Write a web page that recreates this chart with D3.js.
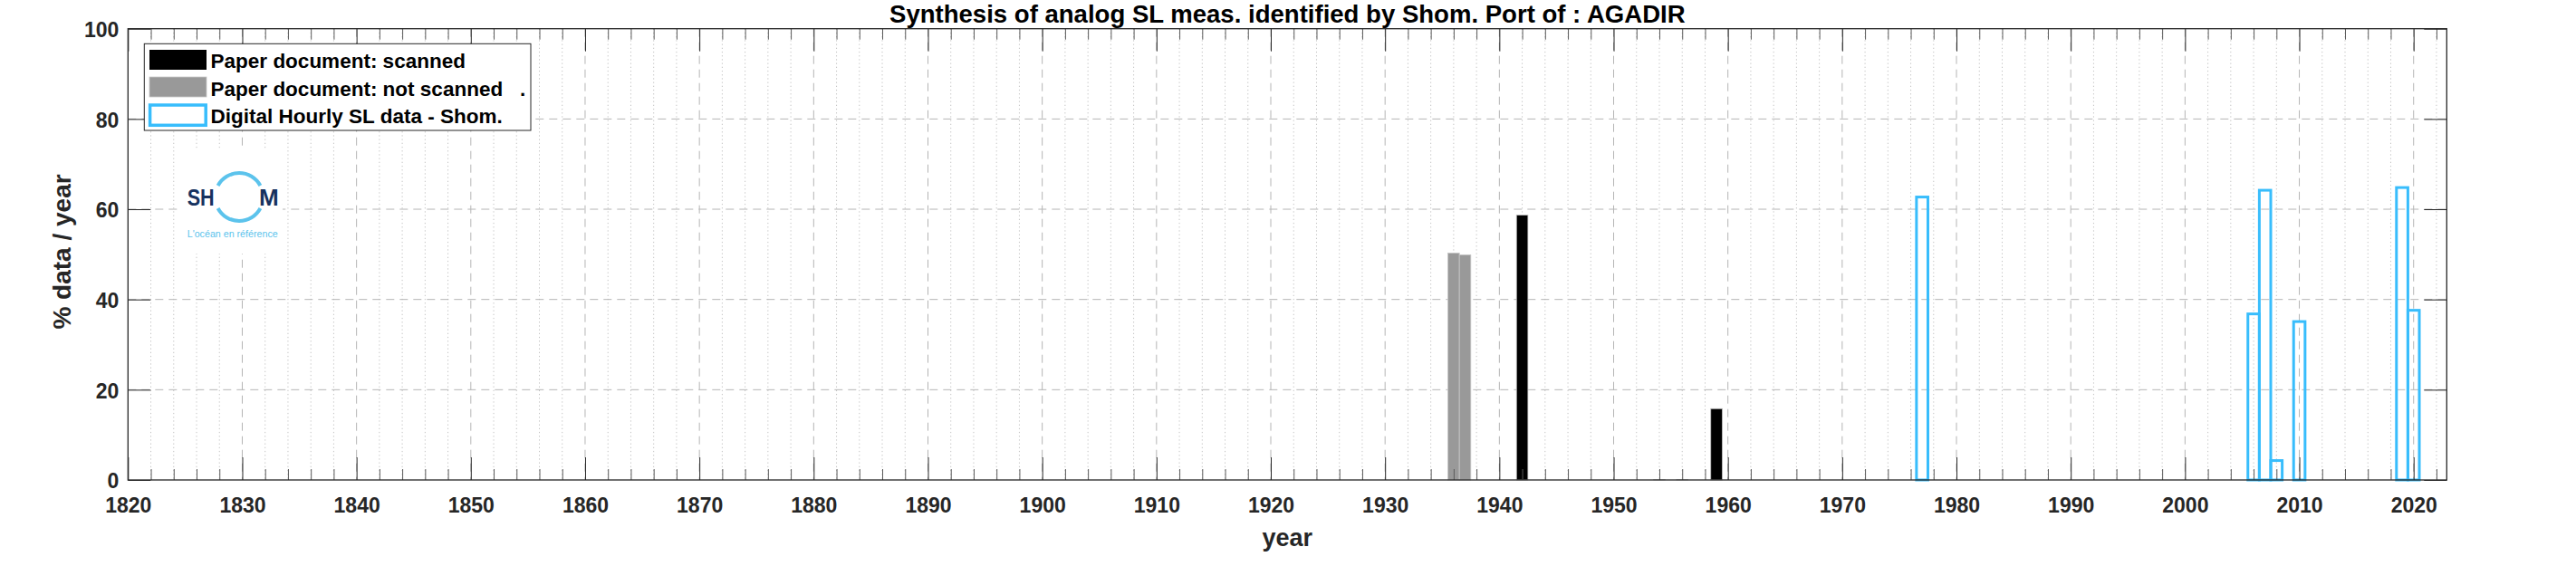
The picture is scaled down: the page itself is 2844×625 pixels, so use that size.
<!DOCTYPE html>
<html><head><meta charset="utf-8">
<script src="https://cdn.jsdelivr.net/npm/d3@7"></script>
<style>
body{margin:0;background:#fff}
text{font-family:"Liberation Sans",Arial,sans-serif;}
</style>
</head><body>
<svg id="chart" width="2844" height="625" xmlns="http://www.w3.org/2000/svg"></svg>
<script>
// ---- data ----
const scannedYears = [1942, 1959];
const scannedValues = [58.7, 15.8];
const notScannedYears = [1936, 1937, 1954, 1956];
const notScannedValues = [50.3, 49.9, 0.1, 0.1];
const digitalYears = [1977, 2006, 2007, 2008, 2010, 2019, 2020];
const digitalValues = [62.7, 36.8, 64.2, 4.3, 35.1, 64.8, 37.6];
const xTickLabels = [1820,1830,1840,1850,1860,1870,1880,1890,1900,1910,1920,1930,1940,1950,1960,1970,1980,1990,2000,2010,2020];
const yTickLabels = [0, 20, 40, 60, 80, 100];
const titleText = "Synthesis of analog SL meas. identified by Shom. Port of : AGADIR";
const xLabelText = "year";
const yLabelText = "% data / year";
const legendLabels = ["Paper document: scanned", "Paper document: not scanned   .", "Digital Hourly SL data - Shom."];

// ---- layout ----
const W = 2844, H = 625;
const L = 141.3, R = 2701.3, T = 31.7, B = 530;
const axisColor = "#262626";
const blue = "#38bdfc";

const svg = d3.select("#chart");
svg.append("rect").attr("width", W).attr("height", H).attr("fill", "#fff");

const x = d3.scaleLinear().domain([1820, 2022.9]).range([L, R]);
const y = d3.scaleLinear().domain([0, 100]).range([B, T]);

const minorYears = d3.range(1820, 2023, 2).filter(v => v % 10 !== 0);

// ---- grid ----
const grid = svg.append("g");
grid.selectAll("line.minor").data(minorYears).join("line")
  .attr("x1", d => x(d)).attr("x2", d => x(d)).attr("y1", T).attr("y2", B)
  .attr("stroke", "#c4c4c4").attr("stroke-width", 1).attr("stroke-dasharray", "1.3,2.9");
grid.selectAll("line.majorx").data(xTickLabels.filter(v => v > 1820)).join("line")
  .attr("x1", d => x(d)).attr("x2", d => x(d)).attr("y1", T).attr("y2", B)
  .attr("stroke", "#b5b5b5").attr("stroke-width", 1).attr("stroke-dasharray", "9,6");
grid.selectAll("line.majory").data(yTickLabels.filter(v => v > 0 && v < 100)).join("line")
  .attr("x1", L).attr("x2", R).attr("y1", d => y(d)).attr("y2", d => y(d))
  .attr("stroke", "#b5b5b5").attr("stroke-width", 1).attr("stroke-dasharray", "9,6");

// ---- bars ----
const bw = x(1821) - x(1820);
const bars = svg.append("g");
bars.selectAll("rect.ns").data(notScannedYears.map((d, i) => [d, notScannedValues[i]])).join("rect")
  .attr("x", d => x(d[0] - 0.5)).attr("width", bw)
  .attr("y", d => y(d[1])).attr("height", d => y(0) - y(d[1]))
  .attr("fill", "#999999").attr("stroke", "#c6c6c6").attr("stroke-width", 0.8);
bars.selectAll("rect.sc").data(scannedYears.map((d, i) => [d, scannedValues[i]])).join("rect")
  .attr("x", d => x(d[0] - 0.5)).attr("width", bw)
  .attr("y", d => y(d[1])).attr("height", d => y(0) - y(d[1]))
  .attr("fill", "#000").attr("stroke", "#bcbcbc").attr("stroke-width", 0.8);
bars.selectAll("rect.dg").data(digitalYears.map((d, i) => [d, digitalValues[i]])).join("rect")
  .attr("x", d => x(d[0] - 0.5)).attr("width", bw)
  .attr("y", d => y(d[1])).attr("height", d => y(0) - y(d[1]))
  .attr("fill", "none").attr("stroke", blue).attr("stroke-width", 3);

// ---- axes ----
function styleAxis(g, color, width) {
  g.select(".domain").remove();
  g.selectAll(".tick line").attr("stroke", color).attr("stroke-width", width);
}
const fmt = d3.format("d");
const xb = svg.append("g").attr("transform", `translate(0,${B})`)
  .call(d3.axisBottom(x).tickValues(xTickLabels).tickSize(-25).tickPadding(20).tickFormat(fmt));
styleAxis(xb, axisColor, 1);
xb.selectAll(".tick text").attr("font-size", 23).attr("font-weight", "bold").attr("fill", axisColor);
const xbm = svg.append("g").attr("transform", `translate(0,${B})`)
  .call(d3.axisBottom(x).tickValues(minorYears).tickSize(-12).tickFormat(""));
styleAxis(xbm, "#5a5a5a", 1);
const xt = svg.append("g").attr("transform", `translate(0,${T})`)
  .call(d3.axisTop(x).tickValues(xTickLabels).tickSize(-25).tickFormat(""));
styleAxis(xt, axisColor, 1);
const xtm = svg.append("g").attr("transform", `translate(0,${T})`)
  .call(d3.axisTop(x).tickValues(minorYears).tickSize(-12).tickFormat(""));
styleAxis(xtm, "#5a5a5a", 1);
const yl = svg.append("g").attr("transform", `translate(${L},0)`)
  .call(d3.axisLeft(y).tickValues(yTickLabels).tickSize(-25).tickPadding(10).tickFormat(fmt));
styleAxis(yl, axisColor, 1);
yl.selectAll(".tick text").attr("font-size", 23).attr("font-weight", "bold").attr("fill", axisColor).attr("dy", "0.38em");
const yr = svg.append("g").attr("transform", `translate(${R},0)`)
  .call(d3.axisRight(y).tickValues(yTickLabels).tickSize(-25).tickFormat(""));
styleAxis(yr, axisColor, 1);

// box
svg.append("rect").attr("x", L).attr("y", T).attr("width", R - L).attr("height", B - T)
  .attr("fill", "none").attr("stroke", axisColor).attr("stroke-width", 1.3);

// ---- labels ----
const title = svg.append("text").attr("x", (L + R) / 2).attr("y", 25)
  .attr("text-anchor", "middle").attr("font-weight", "bold").attr("font-size", 26).attr("fill", "#000")
  .text(titleText);
const tw = title.node().getComputedTextLength();
title.attr("font-size", 26 * 879 / tw);

svg.append("text").attr("x", (L + R) / 2).attr("y", 603)
  .attr("text-anchor", "middle").attr("font-weight", "bold").attr("font-size", 27).attr("fill", axisColor)
  .text(xLabelText);
svg.append("text").attr("transform", "translate(78,278) rotate(-90)")
  .attr("text-anchor", "middle").attr("font-weight", "bold").attr("font-size", 28).attr("fill", axisColor)
  .text(yLabelText);

// ---- logo ----
const logo = svg.append("g");
logo.append("rect").attr("x", 200).attr("y", 166).attr("width", 112).attr("height", 114).attr("fill", "#fff");
const arc = d3.arc().innerRadius(24.5).outerRadius(28.5);
const deg = Math.PI / 180;
logo.append("path").attr("transform", "translate(264,217.5)")
  .attr("d", arc({startAngle: -62 * deg, endAngle: 62 * deg})).attr("fill", "#5cc3ec");
logo.append("path").attr("transform", "translate(264,217.5)")
  .attr("d", arc({startAngle: 118 * deg, endAngle: 242 * deg})).attr("fill", "#5cc3ec");
logo.append("text").attr("x", 206.7).attr("y", 226.7).attr("font-size", 25).attr("font-weight", "bold")
  .attr("fill", "#17325f").attr("textLength", 30).attr("lengthAdjust", "spacingAndGlyphs").text("SH");
logo.append("text").attr("x", 286).attr("y", 226.7).attr("font-size", 25).attr("font-weight", "bold")
  .attr("fill", "#17325f").attr("textLength", 21.7).attr("lengthAdjust", "spacingAndGlyphs").text("M");
logo.append("text").attr("x", 206.7).attr("y", 262).attr("font-size", 11)
  .attr("fill", "#5cc3ec").attr("textLength", 100).attr("lengthAdjust", "spacingAndGlyphs").text("L'océan en référence");

// ---- legend ----
const lg = svg.append("g");
lg.append("rect").attr("x", 159.3).attr("y", 48.3).attr("width", 426.7).attr("height", 95.7)
  .attr("fill", "#fff").attr("stroke", axisColor).attr("stroke-width", 1);
lg.append("rect").attr("x", 165).attr("y", 55).attr("width", 63).attr("height", 22).attr("fill", "#000");
lg.append("rect").attr("x", 165).attr("y", 85).attr("width", 63).attr("height", 22)
  .attr("fill", "#999999").attr("stroke", "#c6c6c6").attr("stroke-width", 0.8);
lg.append("rect").attr("x", 165.6).attr("y", 116).attr("width", 61.6).attr("height", 22.3)
  .attr("fill", "#fff").attr("stroke", blue).attr("stroke-width", 3.5);
lg.selectAll("text.lab").data(legendLabels).join("text")
  .attr("x", 232.6).attr("y", (d, i) => 75 + i * 30.6)
  .attr("font-size", 22.5).attr("font-weight", "bold").attr("fill", "#000")
  .style("white-space", "pre").text(d => d);
</script>
</body></html>
